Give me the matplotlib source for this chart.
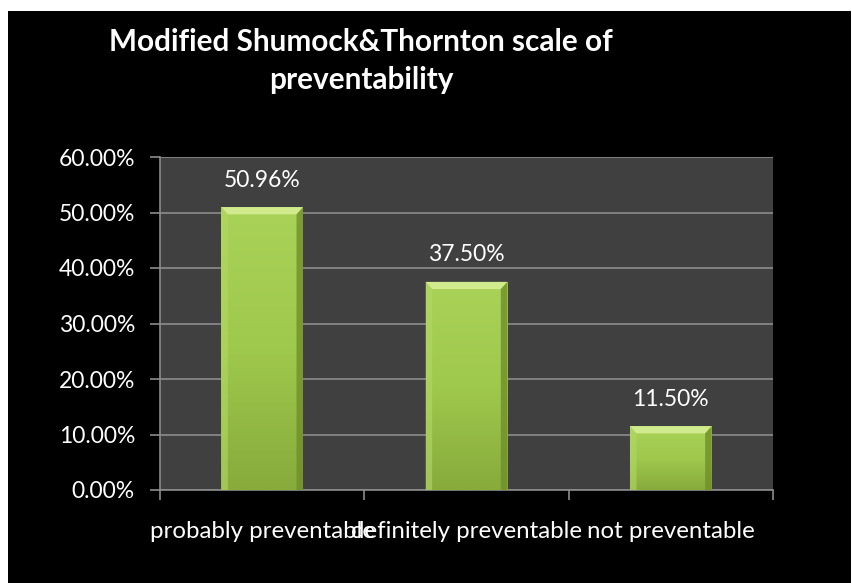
import numpy as np
import matplotlib.pyplot as plt
from matplotlib.patches import Rectangle, Polygon
from matplotlib.colors import LinearSegmentedColormap

# data
categories = ['probably preventable', 'definitely preventable', 'not preventable']
values = [50.96, 37.50, 11.50]
value_labels = ['50.96%', '37.50%', '11.50%']
yticks = [0, 10, 20, 30, 40, 50, 60]
ytick_labels = ['0.00%', '10.00%', '20.00%', '30.00%', '40.00%', '50.00%', '60.00%']

plt.rcParams['font.family'] = ['Lato', 'DejaVu Sans']

W, H = 853, 583
fig = plt.figure(figsize=(W / 100, H / 100), dpi=100, facecolor='white')

# black slide background with thin white strips top/left
fig.patches.append(Rectangle((8 / W, 0), (851 - 8) / W, (H - 11) / H,
                             transform=fig.transFigure, facecolor='black',
                             edgecolor='none', zorder=-10))

ax = fig.add_axes([160 / W, 1 - 490 / H, (773 - 160) / W, (490 - 157) / H])
ax.set_facecolor('#404040')

x = np.arange(len(categories))
bar_w = 0.4
bars = ax.bar(x, values, width=bar_w, color='#a2cb50', edgecolor='none', zorder=3)

# vertical gradient + bevel on each bar
grad = LinearSegmentedColormap.from_list('g', ['#88ab3c', '#9fc94d', '#a9d258'])
for b in bars:
    x0, w, h = b.get_x(), b.get_width(), b.get_height()
    im = ax.imshow(np.linspace(0, 1, 100).reshape(-1, 1), cmap=grad, aspect='auto',
                   extent=[x0, x0 + w, 0, h], origin='lower', zorder=3)
    im.set_clip_path(b)
    bx = w * 0.08
    by = 1.3
    ax.add_patch(Polygon([[x0, h], [x0 + w, h], [x0 + w - bx, h - by], [x0 + bx, h - by]],
                         closed=True, facecolor='#d2ea8e', edgecolor='none', zorder=4))
    ax.add_patch(Polygon([[x0, 0], [x0, h], [x0 + bx, h - by], [x0 + bx, 0]],
                         closed=True, facecolor='#b4d867', edgecolor='none', alpha=0.6, zorder=4))
    ax.add_patch(Polygon([[x0 + w, 0], [x0 + w, h], [x0 + w - bx, h - by], [x0 + w - bx, 0]],
                         closed=True, facecolor='#6f8f2a', edgecolor='none', alpha=0.8, zorder=4))

for xi, v, lab in zip(x, values, value_labels):
    ax.text(xi, v + 3.0, lab, ha='center', va='bottom', color='white', fontsize=16.5, zorder=5)

ax.set_xlim(-0.5, 2.5)
ax.set_ylim(0, 60)
ax.set_yticks(yticks)
ax.set_yticklabels(ytick_labels, color='white', fontsize=16.5)
ax.yaxis.grid(True, color='#8c8c8c', linewidth=1.2, zorder=1)
ax.set_axisbelow(True)

# category ticks sit between the bars
ax.set_xticks([-0.5, 0.5, 1.5, 2.5])
ax.set_xticklabels([])
ax.set_xticks(x, minor=True)
ax.set_xticklabels(categories, minor=True, color='white', fontsize=17.3)
ax.tick_params(axis='x', which='minor', length=0, pad=22)
ax.tick_params(axis='x', which='major', length=7, color='#8c8c8c', width=1.2)
ax.tick_params(axis='y', length=7, color='#8c8c8c', width=1.2, pad=11)

for side in ['top', 'right']:
    ax.spines[side].set_visible(False)
ax.spines['left'].set_color('#8c8c8c')
ax.spines['bottom'].set_color('#8c8c8c')
ax.spines['left'].set_linewidth(1.2)
ax.spines['bottom'].set_linewidth(1.2)

fig.text(361 / W, 1 - 42 / H, 'Modified Shumock&Thornton scale of', ha='center', va='center',
         color='white', fontsize=21.4, fontweight='bold')
fig.text(361 / W, 1 - 80 / H, 'preventability', ha='center', va='center',
         color='white', fontsize=21.4, fontweight='bold')

fig.savefig('out.png', dpi=100, facecolor=fig.get_facecolor())
